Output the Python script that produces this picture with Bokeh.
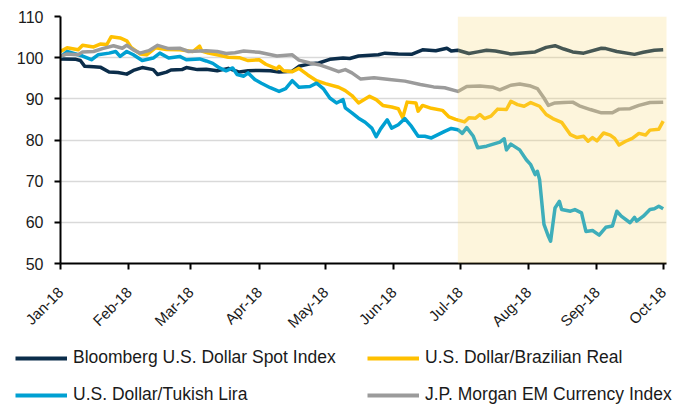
import math
import pandas as pd
from bokeh.plotting import figure
from bokeh.layouts import column
from bokeh.models import (Range1d, FixedTicker, DatetimeTickFormatter, BoxAnnotation,
                          Legend, LegendItem, ColumnDataSource)
from bokeh.embed import file_html
from bokeh.resources import INLINE

# ---------------- data ----------------
usd_dates = ["2018-01-01","2018-01-08","2018-01-10","2018-01-12","2018-01-16","2018-01-19","2018-01-23",
    "2018-01-27","2018-01-31","2018-02-03","2018-02-07","2018-02-12","2018-02-14","2018-02-18","2018-02-20",
    "2018-02-25","2018-02-27","2018-03-04","2018-03-08","2018-03-13","2018-03-18","2018-03-23","2018-03-27",
    "2018-04-01","2018-04-06","2018-04-10","2018-04-16","2018-04-19","2018-04-24","2018-04-28","2018-05-03",
    "2018-05-09","2018-05-12","2018-05-16","2018-05-25","2018-05-28","2018-06-03","2018-06-09","2018-06-14",
    "2018-06-20","2018-06-25","2018-06-27","2018-06-30","2018-07-05","2018-07-09","2018-07-13","2018-07-17",
    "2018-07-24","2018-07-28","2018-08-04","2018-08-09","2018-08-13","2018-08-17","2018-08-21","2018-08-26",
    "2018-09-03","2018-09-05","2018-09-10","2018-09-18","2018-09-22","2018-09-27","2018-10-01"]
usd_values = [99.7,99.6,99.3,97.9,97.8,97.7,96.5,96.4,96.0,96.9,97.6,97.1,95.9,96.5,97.0,97.1,97.6,97.1,97.2,
    96.8,97.4,96.5,96.8,96.9,96.8,96.5,96.7,97.9,98.5,98.7,99.6,99.9,99.8,100.4,100.7,101.1,100.9,100.8,101.9,
    101.7,102.3,101.6,101.8,101.0,101.4,101.8,101.6,100.9,101.1,101.4,102.5,102.9,102.1,101.4,101.1,102.3,
    102.2,101.5,100.8,101.3,101.8,101.9]

brl_dates = ["2018-01-01","2018-01-04","2018-01-09","2018-01-11","2018-01-16","2018-01-19","2018-01-22",
    "2018-01-24","2018-01-28","2018-01-31","2018-02-02","2018-02-06","2018-02-09","2018-02-13","2018-02-18",
    "2018-02-24","2018-03-02","2018-03-05","2018-03-06","2018-03-09","2018-03-14","2018-03-18","2018-03-23",
    "2018-03-27","2018-04-01","2018-04-04","2018-04-09","2018-04-10","2018-04-12","2018-04-16","2018-04-19",
    "2018-04-23","2018-04-27","2018-05-01","2018-05-07","2018-05-10","2018-05-13","2018-05-16","2018-05-21",
    "2018-05-24","2018-05-27","2018-05-31","2018-06-03","2018-06-05","2018-06-07","2018-06-11","2018-06-12",
    "2018-06-14","2018-06-18","2018-06-23","2018-06-26","2018-06-29","2018-07-03","2018-07-05","2018-07-08",
    "2018-07-10","2018-07-12","2018-07-15","2018-07-18","2018-07-22","2018-07-24","2018-07-27","2018-07-30",
    "2018-08-02","2018-08-06","2018-08-09","2018-08-12","2018-08-16","2018-08-20","2018-08-23","2018-08-26",
    "2018-08-28","2018-08-30","2018-09-01","2018-09-04","2018-09-07","2018-09-09","2018-09-11","2018-09-14",
    "2018-09-17","2018-09-20","2018-09-23","2018-09-25","2018-09-29","2018-10-01"]
brl_values = [101.5,102.4,101.9,103.0,102.6,103.3,103.2,105.1,104.8,104.1,102.5,100.9,100.7,102.4,102.0,
    101.9,101.5,102.8,101.6,101.1,100.6,100.1,100.0,99.3,99.5,98.4,97.3,97.9,96.8,96.6,97.4,95.8,94.4,93.7,
    92.8,92.0,90.8,89.0,90.6,89.8,88.4,88.0,87.6,85.4,89.2,89.0,87.0,88.4,87.7,87.2,85.6,85.0,84.4,85.4,85.3,
    86.2,85.2,85.8,87.5,87.4,89.4,88.6,88.2,89.1,88.2,86.2,85.2,84.3,81.3,80.6,80.9,79.7,80.6,79.8,81.7,81.2,
    80.4,78.8,79.7,80.4,81.6,81.2,82.4,82.6,84.6]

try_dates = ["2018-01-01","2018-01-04","2018-01-09","2018-01-11","2018-01-15","2018-01-18","2018-01-23",
    "2018-01-26","2018-01-28","2018-01-31","2018-02-03","2018-02-07","2018-02-12","2018-02-15","2018-02-19",
    "2018-02-24","2018-02-27","2018-03-05","2018-03-08","2018-03-11","2018-03-14","2018-03-17","2018-03-20",
    "2018-03-22","2018-03-25","2018-03-27","2018-03-30","2018-04-02","2018-04-06","2018-04-10","2018-04-13",
    "2018-04-16","2018-04-19","2018-04-24","2018-04-27","2018-04-30","2018-05-03","2018-05-06","2018-05-09",
    "2018-05-10","2018-05-13","2018-05-16","2018-05-19","2018-05-22","2018-05-24","2018-05-26","2018-05-29",
    "2018-05-31","2018-06-03","2018-06-06","2018-06-09","2018-06-12","2018-06-15","2018-06-18","2018-06-21",
    "2018-06-24","2018-06-27","2018-06-30","2018-07-02","2018-07-04","2018-07-07","2018-07-09","2018-07-13",
    "2018-07-16","2018-07-19","2018-07-21","2018-07-22","2018-07-24","2018-07-28","2018-07-31","2018-08-02",
    "2018-08-04","2018-08-05","2018-08-06","2018-08-08","2018-08-10","2018-08-11","2018-08-13","2018-08-15",
    "2018-08-16","2018-08-20","2018-08-22","2018-08-25","2018-08-27","2018-08-30","2018-09-02","2018-09-05",
    "2018-09-08","2018-09-10","2018-09-12","2018-09-16","2018-09-18","2018-09-19","2018-09-22","2018-09-25",
    "2018-09-27","2018-09-29","2018-10-01"]
try_values = [100.1,101.5,100.7,100.4,99.5,100.7,101.1,101.5,100.3,101.5,100.7,99.3,99.9,101.1,99.9,100.3,
    99.5,99.7,99.2,98.6,97.5,96.8,97.5,95.9,95.5,96.3,94.7,93.8,92.7,91.8,92.5,94.4,92.8,93.0,93.8,92.5,90.2,
    89.0,89.8,87.8,86.6,85.3,84.3,82.9,80.8,82.7,84.9,82.9,83.7,85.2,83.3,80.9,80.9,80.5,81.3,82.1,82.8,82.5,
    81.6,83.0,80.9,78.1,78.5,79.0,79.5,80.3,77.6,79.0,77.6,75.2,74.0,71.6,72.4,70.4,59.5,56.6,55.4,63.5,65.1,
    63.1,62.7,63.1,62.3,57.8,58.0,56.9,58.8,59.1,62.7,61.5,59.9,61.2,60.3,61.5,63.1,63.3,63.9,63.3]

em_dates = ["2018-01-01","2018-01-04","2018-01-09","2018-01-11","2018-01-16","2018-01-20","2018-01-25",
    "2018-01-29","2018-01-31","2018-02-03","2018-02-06","2018-02-10","2018-02-14","2018-02-19","2018-02-24",
    "2018-02-28","2018-03-08","2018-03-13","2018-03-17","2018-03-21","2018-03-25","2018-04-01","2018-04-09",
    "2018-04-16","2018-04-19","2018-04-24","2018-04-28","2018-05-03","2018-05-07","2018-05-10","2018-05-13",
    "2018-05-17","2018-05-23","2018-05-30","2018-06-06","2018-06-13","2018-06-19","2018-06-24","2018-06-30",
    "2018-07-04","2018-07-10","2018-07-16","2018-07-19","2018-07-24","2018-07-28","2018-08-02","2018-08-05",
    "2018-08-08","2018-08-10","2018-08-13","2018-08-17","2018-08-21","2018-08-24","2018-08-29","2018-09-03",
    "2018-09-08","2018-09-11","2018-09-16","2018-09-20","2018-09-25","2018-10-01"]
em_values = [100.3,100.9,100.7,101.4,101.5,102.2,102.9,102.3,103.0,101.9,101.1,101.7,103.0,102.2,102.3,
    101.5,101.7,101.5,101.0,101.2,101.6,101.3,100.4,100.7,99.4,98.7,98.3,97.4,96.6,97.1,96.3,94.8,95.1,94.7,
    94.3,93.5,92.9,92.7,91.8,93.0,93.1,92.8,92.2,93.3,93.6,93.1,92.5,90.2,88.4,89.0,89.1,89.2,88.3,87.4,86.6,
    86.6,87.5,87.6,88.4,89.1,89.2]

series_names = ["Bloomberg U.S. Dollar Spot Index", "U.S. Dollar/Brazilian Real",
                "U.S. Dollar/Tukish Lira", "J.P. Morgan EM Currency Index"]
series_colors = ["#0B2D4A", "#FFC000", "#00A0D2", "#9B9B9B"]
legend_order = [0, 2, 1, 3]   # column-major fill: left column, then right column
month_ticks = ["2018-01-01","2018-02-01","2018-03-01","2018-04-01","2018-05-01","2018-06-01",
               "2018-07-01","2018-08-01","2018-09-01","2018-10-01"]
y_ticks = [50, 60, 70, 80, 90, 100, 110]
shade_start, shade_end = "2018-06-30", "2018-10-03"


def ms(s):
    return pd.Timestamp(s).value / 1e6


FONT = "Liberation Sans"
TXT = "#1A1A1A"

p = figure(width=683, height=343, x_axis_type="datetime", output_backend="svg",
           toolbar_location=None, min_border_left=60, min_border_right=17,
           min_border_top=16, min_border_bottom=80,
           x_range=Range1d(ms("2018-01-01"), ms("2018-10-02 12:00")),
           y_range=Range1d(50, 110))
p.outline_line_color = None
p.background_fill_color = "white"
p.border_fill_color = "white"
p.frame_align = False

p.xgrid.grid_line_color = None
p.ygrid.grid_line_color = "#D9D9D9"
p.ygrid.grid_line_width = 1.5

p.yaxis.ticker = FixedTicker(ticks=y_ticks)
p.xaxis.ticker = FixedTicker(ticks=[ms(t) for t in month_ticks])
fmt = "%b-%y"
p.xaxis.formatter = DatetimeTickFormatter(years=fmt, months=fmt, days=fmt, hours=fmt, minutes=fmt,
                                          seconds=fmt, milliseconds=fmt, microseconds=fmt, hourmin=fmt,
                                          minsec=fmt)
for ax in (p.xaxis[0], p.yaxis[0]):
    ax.axis_line_color = "black"
    ax.axis_line_width = 2
    ax.major_tick_line_color = "black"
    ax.major_tick_line_width = 2
    ax.major_tick_out = 6
    ax.major_tick_in = 0
    ax.minor_tick_line_color = None
    ax.major_label_text_font = FONT
    ax.major_label_text_color = TXT
p.yaxis.major_label_text_font_size = "16px"
p.yaxis.major_label_standoff = 11
p.xaxis.major_label_text_font_size = "15px"
p.xaxis.major_label_orientation = math.pi / 4
p.xaxis.major_label_standoff = 20

for d, v, c in [(usd_dates, usd_values, series_colors[0]),
                (brl_dates, brl_values, series_colors[1]),
                (try_dates, try_values, series_colors[2]),
                (em_dates, em_values, series_colors[3])]:
    src = ColumnDataSource(dict(x=pd.to_datetime(d), y=v))
    p.line("x", "y", source=src, line_color=c, line_width=3.5, line_join="round")

shade = BoxAnnotation(left=ms(shade_start), right=ms(shade_end), bottom=50, top=110,
                      fill_color="#F8D874", fill_alpha=0.25, line_color=None)
p.add_layout(shade)

# ---------------- legend panel ----------------
lg = figure(width=683, height=63, output_backend="svg", toolbar_location=None,
            x_range=Range1d(0, 1), y_range=Range1d(0, 1),
            x_axis_location=None, y_axis_location=None,
            min_border_left=0, min_border_right=0, min_border_top=0, min_border_bottom=0)
lg.outline_line_color = None
lg.grid.grid_line_color = None
lg.frame_align = False
nan = float("nan")
lg_renderers = []
for c in series_colors:
    lg_renderers.append(lg.line(x=[nan], y=[nan], line_color=c, line_width=4))

legend = Legend(items=[LegendItem(label=series_names[i], renderers=[lg_renderers[i]]) for i in legend_order],
                ncols=2, location=(15, 1), padding=0, margin=0, spacing=16,
                glyph_width=52, glyph_height=20, label_height=20, label_width=278,
                label_standoff=6, label_text_font=FONT, label_text_font_size="17.5px",
                label_text_color=TXT, border_line_color=None, background_fill_alpha=0)
lg.add_layout(legend)

layout = column(p, lg, spacing=0)
open("out.html", "w").write(file_html(layout, INLINE))
